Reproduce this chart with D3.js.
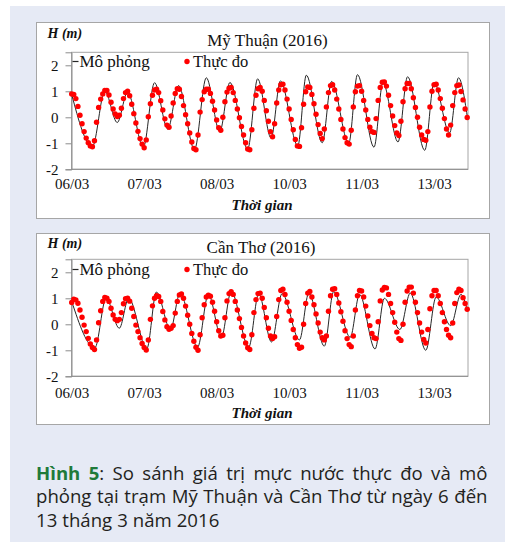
<!DOCTYPE html>
<html><head><meta charset="utf-8">
<script src="https://cdn.jsdelivr.net/npm/d3@7/dist/d3.min.js"></script>
<style>html,body{margin:0;padding:0;background:#fff;}svg{display:block;}</style>
</head><body>
<script>
// ---------- DATA ----------
const tickHours = [0, 35, 70, 105, 140, 175];
const tickLabels = ["06/03", "07/03", "08/03", "10/03", "11/03", "13/03"];
const yTicks = [-2, -1, 0, 1, 2];
const seriesNames = ["Mô phỏng", "Thực đo"];
const stationTitles = ["Mỹ Thuận (2016)", "Cần Thơ (2016)"];

// hourly observed water level (m), Mỹ Thuận
const myThuanObserved = [
 0.90,0.88,0.72,0.42,0.08,-0.25,-0.55,-0.80,-0.98,-1.10,-1.13,-0.90,
 -0.19,0.38,0.70,0.90,1.03,1.03,0.86,0.58,0.32,0.13,0.03,0.08,
 0.35,0.72,0.95,1.00,0.83,0.50,0.14,-0.22,-0.54,-0.82,-1.03,-1.17,
 -0.87,0.02,0.52,0.85,1.05,1.08,0.95,0.64,0.28,-0.06,-0.30,-0.38,
 0.05,0.55,0.92,1.10,1.08,0.80,0.45,0.10,-0.25,-0.60,-0.95,-1.20,
 -1.25,-0.68,0.20,0.68,0.98,1.08,1.08,0.92,0.62,0.28,-0.10,-0.40,
 -0.50,0.00,0.60,0.97,1.12,1.15,0.95,0.65,0.32,-0.02,-0.35,-0.68,
 -0.98,-1.22,-1.25,-0.48,0.35,0.85,1.10,1.15,1.00,0.65,0.25,-0.15,
 -0.55,-0.75,-0.25,0.55,1.05,1.25,1.27,1.05,0.70,0.32,-0.08,-0.48,
 -0.85,-1.10,-1.12,-0.40,0.50,0.98,1.17,1.15,0.88,0.52,0.12,-0.28,
 -0.62,-0.82,-0.45,0.40,0.95,1.22,1.25,1.05,0.70,0.32,-0.08,-0.45,
 -0.78,-0.98,-1.03,-0.50,0.40,0.98,1.20,1.22,1.00,0.65,0.28,-0.08,
 -0.38,-0.55,-0.58,-0.05,0.65,1.15,1.35,1.36,1.20,0.85,0.45,0.05,
 -0.32,-0.60,-0.70,-0.15,0.60,1.10,1.30,1.30,1.10,0.75,0.38,0.00,
 -0.38,-0.68,-0.85,-0.88,-0.55,0.40,1.00,1.25,1.27,1.05,0.72,0.35,
 -0.05,-0.45,-0.68,-0.30,0.45,0.95,1.22,1.24,0.99,0.67,0.32,-0.01
];
// simulated water level, Mỹ Thuận: hour of each turning point and its value
const myThuanSimHours = [0,10,16,22,27,34.6,40,46.4,51.6,59.3,65,71.5,76.4,85,89.8,96.3,100.8,109.2,113.3,121,125.5,133.8,138,146,150.3,157.6,162.2,170.5,175,182.5,186.8,191];
const myThuanSimValues = [0.88,-1.12,1.0,-0.2,0.97,-1.15,1.33,-0.45,1.22,-1.24,1.52,-0.55,1.34,-1.22,1.48,-0.8,1.4,-1.1,1.62,-0.98,1.38,-1.0,1.64,-1.15,1.33,-0.95,1.56,-1.27,1.33,-0.6,1.52,0.05];

// hourly observed water level (m), Cần Thơ
const canThoObserved = [
 0.84,0.97,0.94,0.81,0.55,0.27,-0.03,-0.28,-0.54,-0.76,-0.89,-0.97,
 -0.60,0.06,0.52,0.88,1.03,1.00,0.88,0.62,0.36,0.19,0.14,0.19,
 0.45,0.79,0.98,1.00,0.89,0.62,0.30,-0.03,-0.28,-0.52,-0.74,-0.89,
 -0.99,-0.60,0.19,0.71,1.00,1.10,1.07,0.88,0.49,0.17,-0.09,-0.19,
 -0.15,-0.05,0.43,0.88,1.13,1.17,1.00,0.70,0.35,0.00,-0.35,-0.65,
 -0.88,-1.00,-0.40,0.25,0.75,1.05,1.12,1.08,0.85,0.50,0.10,-0.25,
 -0.45,-0.42,0.25,0.90,1.18,1.25,1.15,0.88,0.55,0.22,-0.12,-0.45,
 -0.72,-0.90,-0.97,-0.40,0.45,0.95,1.18,1.20,1.00,0.65,0.25,-0.15,
 -0.45,-0.55,-0.48,0.30,0.95,1.30,1.35,1.15,0.85,0.50,0.15,-0.20,
 -0.52,-0.78,-0.92,-0.88,0.00,0.80,1.20,1.26,1.05,0.75,0.40,0.05,
 -0.30,-0.52,-0.60,-0.45,0.50,1.10,1.35,1.37,1.15,0.82,0.48,0.12,
 -0.25,-0.55,-0.78,-0.86,-0.45,0.55,1.10,1.30,1.28,1.05,0.70,0.32,
 -0.05,-0.35,-0.52,-0.55,0.10,0.90,1.32,1.42,1.40,1.15,0.80,0.45,
 0.08,-0.30,-0.55,-0.62,0.00,0.85,1.28,1.43,1.43,1.20,0.85,0.45,
 0.05,-0.30,-0.58,-0.72,-0.20,0.60,1.10,1.30,1.30,1.10,0.80,0.45,
 0.10,-0.20,-0.42,-0.52,0.05,0.80,1.22,1.35,1.30,1.02,0.80,0.58
];
const canThoSimHours = [0,11.2,16.6,23,27.5,36.3,40.9,47.7,52.3,60.8,66,72.3,77,85.5,90.3,96.5,101.6,110,114.5,122,126.5,134.5,139,146.5,151,158.5,163.5,171,176,183,188,191];
const canThoSimValues = [0.88,-0.9,1.0,-0.15,1.0,-0.93,1.24,-0.2,1.2,-0.88,1.15,-0.5,1.26,-0.88,1.17,-0.68,1.18,-0.6,1.2,-0.84,1.25,-0.5,1.15,-0.95,1.0,-0.2,1.2,-1.0,1.05,-0.05,1.15,0.55];

const captionLines = [
  [["Hình", "b"], ["5", "b", ":"], ["So"], ["sánh"], ["giá"], ["trị"], ["mực"], ["nước"], ["thực"], ["đo"], ["và"], ["mô"]],
  [["phỏng"], ["tại"], ["trạm"], ["Mỹ"], ["Thuận"], ["và"], ["Cần"], ["Thơ"], ["từ"], ["ngày"], ["6"], ["đến"]],
  [["13"], ["tháng"], ["3"], ["năm"], ["2016"]]
];

// ---------- DRAW ----------
const W = 505, H = 542;
const svg = d3.select("body").append("svg").attr("width", W).attr("height", H);
svg.append("rect").attr("width", W).attr("height", H).attr("fill", "#ffffff");
svg.append("rect").attr("x", 10).attr("y", 6).attr("width", W - 10).attr("height", H - 6).attr("fill", "#e6eaf5");

const serif = "'Liberation Serif','Times New Roman',serif";
const layouts = [
  {box: [36, 22, 453, 196], top: 52.3, bottom: 169.3, titleX: 267.5, titleY: 46, hmY: 37.5, legendY: 61.5, xLabY: 189.5, xTitY: 210},
  {box: [36, 233, 453, 191], top: 259.3, bottom: 376.3, titleX: 261, titleY: 252.5, hmY: 247.5, legendY: 269.5, xLabY: 398, xTitY: 418}
];
const datasets = [
  {obs: myThuanObserved, simH: myThuanSimHours, simV: myThuanSimValues},
  {obs: canThoObserved, simH: canThoSimHours, simV: canThoSimValues}
];

const plotLeft = 71.5, plotRight = 468;
const x = d3.scaleLinear().domain([0, 191]).range([71.7, 467.2]);

layouts.forEach((L, i) => {
  const D = datasets[i];
  const g = svg.append("g");
  g.append("rect").attr("x", L.box[0] + 0.5).attr("y", L.box[1] + 0.5)
    .attr("width", L.box[2]).attr("height", L.box[3])
    .attr("fill", "#fff").attr("stroke", "#a6a6a6").attr("stroke-width", 1);

  const y = d3.scaleLinear().domain([-2, 2.5]).range([L.bottom, L.top]);

  // plot area border
  g.append("rect").attr("x", plotLeft).attr("y", L.top)
    .attr("width", plotRight - plotLeft).attr("height", L.bottom - L.top)
    .attr("fill", "none").attr("stroke", "#a6a6a6").attr("stroke-width", 1);

  // y axis
  const yAxis = d3.axisLeft(y).tickValues(yTicks).tickSize(6).tickPadding(7).tickFormat(d3.format("d"));
  const ya = g.append("g").attr("transform", `translate(${plotLeft},0)`).call(yAxis);
  ya.select(".domain").attr("stroke", "#8c8c8c");
  ya.selectAll(".tick line").attr("stroke", "#8c8c8c");
  ya.selectAll(".tick text").attr("font-family", serif).attr("font-size", 15).attr("fill", "#111")
    .text(d => d < 0 ? "-" + Math.abs(d) : d);

  // x axis
  const xAxis = d3.axisBottom(x).tickValues(tickHours).tickSize(0).tickPadding(0)
    .tickFormat((d, k) => tickLabels[k]);
  const xa = g.append("g").attr("transform", `translate(0,${L.bottom})`).call(xAxis);
  xa.select(".domain").remove();
  g.append("line").attr("x1", plotLeft).attr("x2", plotRight).attr("y1", L.bottom).attr("y2", L.bottom)
    .attr("stroke", "#8c8c8c");
  xa.selectAll(".tick text").attr("font-family", serif).attr("font-size", 15).attr("fill", "#111")
    .attr("dy", null).attr("y", L.xLabY - L.bottom);

  // simulated line
  const simPts = D.simH.map((h, k) => [h, D.simV[k]]);
  const line = d3.line().x(d => x(d[0])).y(d => y(d[1])).curve(d3.curveMonotoneX);
  g.append("path").datum(simPts).attr("d", line).attr("fill", "none")
    .attr("stroke", "#262626").attr("stroke-width", 1);

  // observed dots
  g.append("g").selectAll("circle").data(D.obs).join("circle")
    .attr("cx", (d, k) => x(k)).attr("cy", d => y(d)).attr("r", 2.7).attr("fill", "#ff0000");

  // titles
  g.append("text").attr("x", L.titleX).attr("y", L.titleY).attr("text-anchor", "middle")
    .attr("font-family", serif).attr("font-size", 17).attr("fill", "#111").text(stationTitles[i]);
  g.append("text").attr("x", 47.5).attr("y", L.hmY)
    .attr("font-family", serif).attr("font-size", 14).attr("font-weight", "bold").attr("font-style", "italic")
    .attr("fill", "#111").text("H (m)");
  g.append("text").attr("x", 262).attr("y", L.xTitY).attr("text-anchor", "middle")
    .attr("font-family", serif).attr("font-size", 15).attr("font-weight", "bold").attr("font-style", "italic")
    .attr("fill", "#111").text("Thời gian");

  // legend
  g.append("line").attr("x1", 72.5).attr("x2", 78.5).attr("y1", L.legendY).attr("y2", L.legendY)
    .attr("stroke", "#262626").attr("stroke-width", 1.2);
  g.append("text").attr("x", 79.5).attr("y", L.legendY + 5.5).attr("font-family", serif).attr("font-size", 17)
    .attr("fill", "#111").text(seriesNames[0]);
  g.append("circle").attr("cx", 187).attr("cy", L.legendY).attr("r", 2.7).attr("fill", "#ff0000");
  g.append("text").attr("x", 193).attr("y", L.legendY + 5.5).attr("font-family", serif).attr("font-size", 16.5)
    .attr("fill", "#111").text(seriesNames[1]);
});

// caption (justified)
const capFont = "'Open Sans','Noto Sans',sans-serif";
const capY = [479.5, 503, 526.5];
const capX0 = 36, capX1 = 487.5;
captionLines.forEach((words, li) => {
  const grp = svg.append("g");
  const nodes = words.map(w => {
    const t = grp.append("text").attr("y", capY[li]).attr("font-family", capFont).attr("font-size", 18.6)
      .attr("fill", "#231f20");
    const main = t.append("tspan").text(w[0]);
    if (w[1] === "b") main.attr("font-weight", "bold").attr("fill", "#1f7a3a");
    if (w[2]) t.append("tspan").text(w[2]);
    return t;
  });
  const widths = nodes.map(n => n.node().getComputedTextLength());
  const total = d3.sum(widths);
  const justify = li < captionLines.length - 1;
  const gap = justify ? (capX1 - capX0 - total) / (nodes.length - 1) : 5;
  let cx = capX0;
  nodes.forEach((n, k) => { n.attr("x", cx); cx += widths[k] + gap; });
});
</script>
</body></html>
